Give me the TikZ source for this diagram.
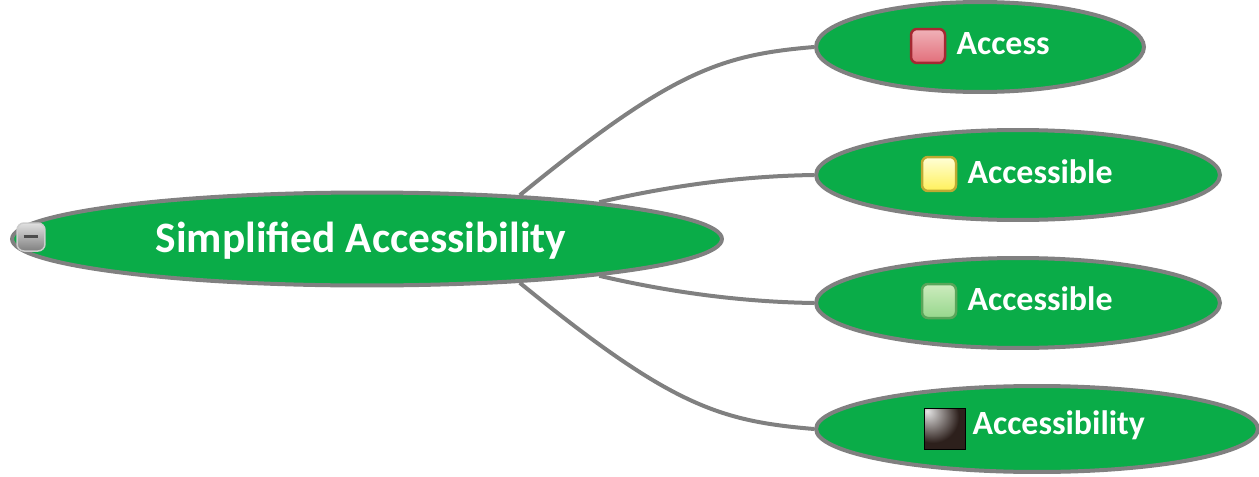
\documentclass[tikz,border=0pt]{standalone}
\usepackage{fontspec}
\setmainfont{Carlito}
\usetikzlibrary{shapes, positioning}
\usetikzlibrary{calc}
\definecolor{nodegreen}{RGB}{10,172,72}
\definecolor{edgegray}{RGB}{128,128,128}
\definecolor{redtop}{RGB}{240,178,184}
\definecolor{redlow}{RGB}{226,110,122}
\definecolor{redline}{RGB}{165,40,50}
\definecolor{yellowtop}{RGB}{255,255,215}
\definecolor{yellowlow}{RGB}{255,240,90}
\definecolor{yellowline}{RGB}{190,170,50}
\definecolor{greentop}{RGB}{205,235,190}
\definecolor{greenlow}{RGB}{150,215,140}
\definecolor{greenline}{RGB}{90,165,90}
\definecolor{darkglow}{RGB}{45,32,28}
\pgfdeclareradialshading{blackglow}{\pgfpoint{-22bp}{22bp}}{color(0bp)=(white!90!black); color(32bp)=(darkglow); color(100bp)=(darkglow)}
\tikzset{
	bubble/.style={ellipse, draw=edgegray, line width=0.08cm, fill=nodegreen, inner sep=0pt},
	link/.style={draw=edgegray, line width=0.08cm},
	mark box/.style={rounded corners=0.12cm, line width=0.05cm, minimum size=0.68cm, inner sep=0pt},
	caption/.style={text=white, font=\bfseries\fontsize{19.3}{23}\selectfont, inner sep=0pt},
}
\begin{document}
\begin{tikzpicture}[x=0.02cm, y=-0.02cm]
	\useasboundingbox (0,0) rectangle (1259,477);
	\node[bubble, minimum width=14.2cm, minimum height=1.86cm] (root) at (367,239) {};
	\node[bubble, minimum width=6.56cm, minimum height=1.8cm] (access) at (980,47) {};
	\node[bubble, minimum width=8.08cm, minimum height=1.8cm] (accessible) at (1018,175) {};
	\node[bubble, minimum width=8.08cm, minimum height=1.8cm] (accessibletwo) at (1018,303) {};
	\node[bubble, minimum width=8.84cm, minimum height=1.72cm] (accessibility) at (1037,429) {};
	\foreach \leaf/\ang/\ax/\ay/\bx/\by in {access/16.7/151/-123/-95/8, accessible/9.2/73/-17/-70/1, accessibletwo/-9.2/73/17/-70/-1, accessibility/-16.7/151/123/-95/-8} {
		\draw[link] (root.\ang) .. controls ($(root.\ang)+(\ax,\ay)$) and ($(\leaf.west)+(\bx,\by)$) .. (\leaf.west);
	}
	\node[text=white, font=\bfseries\fontsize{24.7}{30}\selectfont, inner sep=0pt] (roottext) at (361,241) {Simplified Accessibility};
	\node[draw=white!80!black, rounded corners=0.14cm, line width=0.03cm, minimum size=0.56cm, inner sep=0pt, top color=white!88!black, bottom color=black!50] (minus) at (31,237) {\textcolor{black!70}{\rule[0.03cm]{0.3cm}{0.05cm}}};
	\node[mark box, draw=redline, top color=redtop, bottom color=redlow] (redmark) at (928,46) {};
	\node[caption, right=0.2cm of redmark, yshift=0.04cm] (accesstext) {Access};
	\node[mark box, draw=yellowline, top color=yellowtop, bottom color=yellowlow] (yellowmark) at (939,174) {};
	\node[caption, right=0.2cm of yellowmark, yshift=0.04cm] (accessibletext) {Accessible};
	\node[mark box, draw=greenline, top color=greentop, bottom color=greenlow] (greenmark) at (939,301) {};
	\node[caption, right=0.2cm of greenmark, yshift=0.04cm] (accessibletwotext) {Accessible};
	\node[draw=black, line width=0.03cm, minimum size=0.82cm, inner sep=0pt, shading=blackglow] (blackmark) at (945,429) {};
	\node[caption, right=0.12cm of blackmark, yshift=0.08cm] (accessibilitytext) {Accessibility};
\end{tikzpicture}
\end{document}
